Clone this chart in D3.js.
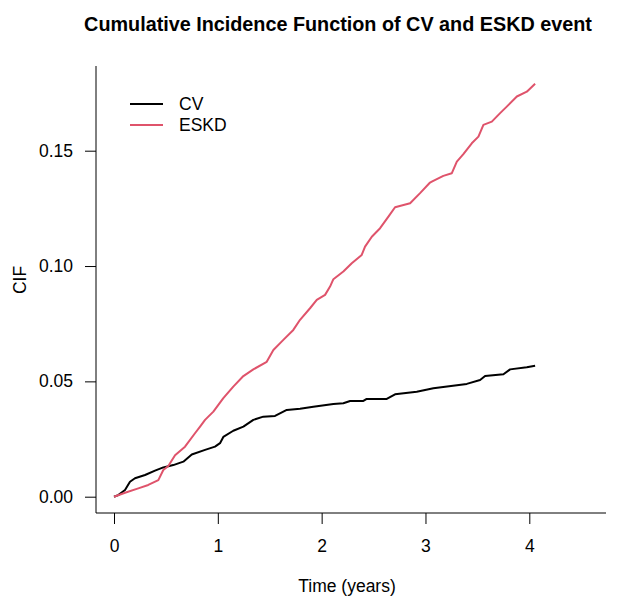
<!DOCTYPE html>
<html>
<head>
<meta charset="utf-8">
<script src="https://cdn.jsdelivr.net/npm/d3@7"></script>
<style>
  body { margin: 0; background: #fff; }
  svg { display: block; font-family: "Liberation Sans", Arial, sans-serif; }
</style>
</head>
<body>
<div id="chart"></div>
<script>
// CIF curves (time in years, cumulative incidence)
const cvTime = [0, 0.041, 0.106, 0.154, 0.202, 0.299, 0.395, 0.475, 0.571, 0.668, 0.749, 0.877, 0.973, 1.021, 1.053,
  1.149, 1.246, 1.342, 1.438, 1.551, 1.664, 1.792, 1.92, 2.113, 2.209, 2.274, 2.402, 2.434, 2.627, 2.707,
  2.916, 3.076, 3.398, 3.526, 3.574, 3.751, 3.815, 3.976, 4.056];
const cvCif = [0, 0.0007, 0.0029, 0.0065, 0.008, 0.0094, 0.0113, 0.0127, 0.0137, 0.0152, 0.0183, 0.0203, 0.0217, 0.0232, 0.0259,
  0.0286, 0.0304, 0.0333, 0.0347, 0.035, 0.0376, 0.0381, 0.039, 0.0402, 0.0405, 0.0415, 0.0415, 0.0424, 0.0424, 0.0444,
  0.0455, 0.047, 0.0489, 0.0506, 0.0523, 0.0531, 0.0552, 0.0561, 0.0568];

const eskdTime = [0, 0.106, 0.234, 0.33, 0.427, 0.475, 0.523, 0.588, 0.684, 0.78, 0.829, 0.877, 0.957, 1.053, 1.149,
  1.246, 1.342, 1.471, 1.535, 1.631, 1.727, 1.792, 1.888, 1.953, 2.033, 2.081, 2.113, 2.209, 2.29, 2.386,
  2.418, 2.483, 2.563, 2.643, 2.707, 2.852, 2.948, 3.044, 3.061, 3.172, 3.253, 3.302, 3.365, 3.446, 3.51,
  3.558, 3.639, 3.719, 3.783, 3.88, 3.976, 4.056];
const eskdCif = [0, 0.0017, 0.0036, 0.0051, 0.0072, 0.0116, 0.0133, 0.018, 0.0217, 0.0275, 0.0304, 0.0333, 0.0369, 0.0427, 0.0477,
  0.0523, 0.0552, 0.0585, 0.0636, 0.068, 0.0723, 0.0767, 0.0817, 0.0853, 0.0875, 0.0911, 0.0943, 0.0976, 0.1012, 0.1048,
  0.1084, 0.1127, 0.1164, 0.1214, 0.1255, 0.1272, 0.1316, 0.1362, 0.1366, 0.1391, 0.1402, 0.1453, 0.1485, 0.1532, 0.1561,
  0.1612, 0.1626, 0.1663, 0.1691, 0.1735, 0.1756, 0.179];

const xTicks = [0, 1, 2, 3, 4];
const yTicks = [0, 0.05, 0.10, 0.15];
const seriesNames = ["CV", "ESKD"];
const seriesColors = ["#000000", "#DF536B"];

const width = 620, height = 598;
// frame of the plot (L-shaped box)
const frame = { left: 96, right: 606, top: 66, bottom: 513 };
const labelSize = "17.5px";

const svg = d3.select("#chart")
  .append("svg")
  .attr("width", width)
  .attr("height", height);

const x = d3.scaleLinear().domain([0, 4]).range([114, 529.3]);
const y = d3.scaleLinear().domain([0, 0.15]).range([496.7, 150.7]);

// title
svg.append("text")
  .attr("x", 338)
  .attr("y", 31)
  .attr("text-anchor", "middle")
  .style("font-size", "19.8px")
  .style("font-weight", "bold")
  .text("Cumulative Incidence Function of CV and ESKD event");

// L box
svg.append("path")
  .attr("d", `M${frame.left},${frame.top}V${frame.bottom}H${frame.right}`)
  .attr("fill", "none")
  .attr("stroke", "#000")
  .attr("stroke-width", 1);

// x axis
const xAxis = svg.append("g")
  .attr("transform", `translate(0,${frame.bottom})`)
  .call(d3.axisBottom(x).tickValues(xTicks).tickSize(11).tickSizeOuter(0).tickPadding(15.5).tickFormat(d3.format("d")));
xAxis.select(".domain").remove();
xAxis.selectAll("text").style("font-size", labelSize).attr("fill", "#000");

// y axis
const yAxis = svg.append("g")
  .attr("transform", `translate(${frame.left},0)`)
  .call(d3.axisLeft(y).tickValues(yTicks).tickSize(11).tickSizeOuter(0).tickPadding(12).tickFormat(d3.format(".2f")));
yAxis.select(".domain").remove();
yAxis.selectAll("text").style("font-size", labelSize).attr("fill", "#000");

// axis titles
svg.append("text")
  .attr("x", 347)
  .attr("y", 592)
  .attr("text-anchor", "middle")
  .style("font-size", labelSize)
  .text("Time (years)");

svg.append("text")
  .attr("transform", "translate(26,280) rotate(-90)")
  .attr("text-anchor", "middle")
  .style("font-size", labelSize)
  .text("CIF");

// curves
const line = d3.line()
  .x(d => x(d[0]))
  .y(d => y(d[1]));

const cvData = d3.zip(cvTime, cvCif);
const eskdData = d3.zip(eskdTime, eskdCif);

svg.append("path")
  .datum(cvData)
  .attr("d", line)
  .attr("fill", "none")
  .attr("stroke", seriesColors[0])
  .attr("stroke-width", 2)
  .attr("stroke-linejoin", "round");

svg.append("path")
  .datum(eskdData)
  .attr("d", line)
  .attr("fill", "none")
  .attr("stroke", seriesColors[1])
  .attr("stroke-width", 2)
  .attr("stroke-linejoin", "round");

// legend
const legend = svg.append("g");
seriesNames.forEach((name, i) => {
  const ly = 104 + i * 21;
  legend.append("line")
    .attr("x1", 130).attr("x2", 163)
    .attr("y1", ly).attr("y2", ly)
    .attr("stroke", seriesColors[i])
    .attr("stroke-width", 2);
  legend.append("text")
    .attr("x", 179)
    .attr("y", ly)
    .attr("dy", "0.35em")
    .style("font-size", labelSize)
    .text(name);
});
</script>
</body>
</html>
